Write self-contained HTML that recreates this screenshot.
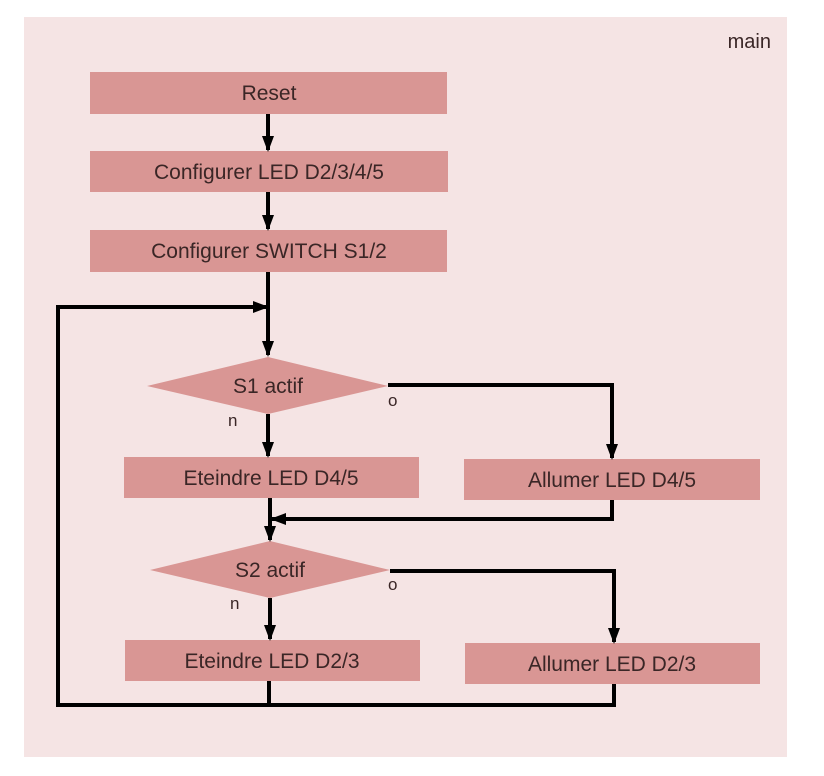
<!DOCTYPE html>
<html><head><meta charset="utf-8"><style>
body{margin:0;background:#fff;}
svg{display:block}
text{font-family:"Liberation Sans",sans-serif;fill:#3a2626;}
</style></head><body>
<svg width="824" height="776" viewBox="0 0 824 776" xmlns="http://www.w3.org/2000/svg">
<defs>
<marker id="b" markerWidth="16" markerHeight="12" refX="14" refY="6" orient="auto" markerUnits="userSpaceOnUse"><path d="M0,0 L16,6 L0,12 z" fill="#000"/></marker></defs>
<rect x="24" y="17" width="763" height="740" fill="#f5e4e4"/>
<text x="771" y="48" font-size="20" text-anchor="end">main</text>
<g fill="#d99694">
<rect x="90" y="72" width="357" height="42"/>
<rect x="90" y="151" width="358" height="41"/>
<rect x="90" y="230" width="357" height="42"/>
<polygon points="147,386 268,357 388,386 268,414"/>
<rect x="124" y="457" width="295" height="41"/>
<rect x="464" y="459" width="296" height="41"/>
<polygon points="150,570 270,541 390,570 270,598"/>
<rect x="125" y="640" width="295" height="41"/>
<rect x="465" y="643" width="295" height="41"/>
</g>
<g font-size="21" text-anchor="middle">
<text x="269" y="100">Reset</text>
<text x="269" y="179">Configurer LED D2/3/4/5</text>
<text x="269" y="258">Configurer SWITCH S1/2</text>
<text x="268" y="393">S1 actif</text>
<text x="271" y="485">Eteindre LED D4/5</text>
<text x="612" y="487">Allumer LED D4/5</text>
<text x="270" y="577">S2 actif</text>
<text x="272" y="668">Eteindre LED D2/3</text>
<text x="612" y="671">Allumer LED D2/3</text>
</g>
<g font-size="17">
<text x="388" y="406">o</text><text x="228" y="426">n</text>
<text x="388" y="590">o</text><text x="230" y="609">n</text>
</g>
<g stroke="#000" stroke-width="4" fill="none">
<line x1="268" y1="114" x2="268" y2="150" marker-end="url(#b)"/>
<line x1="268" y1="192" x2="268" y2="229" marker-end="url(#b)"/>
<line x1="268" y1="272" x2="268" y2="355" marker-end="url(#b)"/>
<polyline points="58,705 58,307 267,307" marker-end="url(#b)"/>
<line x1="268" y1="414" x2="268" y2="456" marker-end="url(#b)"/>
<polyline points="388,385 612,385 612,458" marker-end="url(#b)"/>
<polyline points="612,500 612,519 272,519" marker-end="url(#b)"/>
<line x1="270" y1="498" x2="270" y2="540" marker-end="url(#b)"/>
<line x1="270" y1="598" x2="270" y2="639" marker-end="url(#b)"/>
<polyline points="390,571 614,571 614,642" marker-end="url(#b)"/>
<polyline points="56,705 614,705 614,684"/>
<line x1="269" y1="681" x2="269" y2="705"/>
</g>
</svg>
</body></html>
